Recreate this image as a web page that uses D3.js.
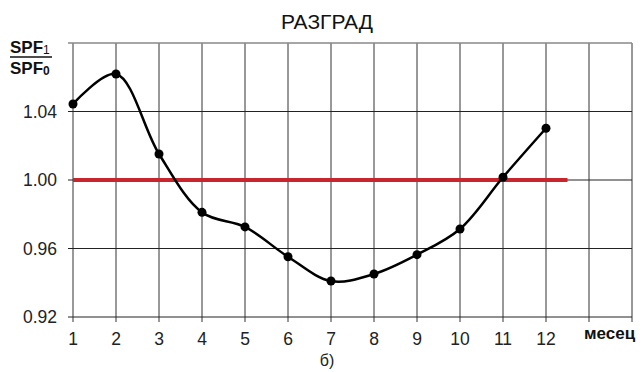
<!DOCTYPE html>
<html><head><meta charset="utf-8">
<script src="https://cdn.jsdelivr.net/npm/d3@7"></script>
<style>body{margin:0;background:#fff}svg{display:block}</style>
</head><body>
<svg id="c" width="643" height="372" font-family="'Liberation Sans', Arial, sans-serif"></svg>
<script>
const months = [1,2,3,4,5,6,7,8,9,10,11,12];
const values = [1.0444,1.0619,1.0152,0.9811,0.9726,0.9552,0.9410,0.9451,0.9564,0.9714,1.0016,1.0302];
const yTicks = [0.92,0.96,1.00,1.04,1.08];
const yTickLabels = ["0.92","0.96","1.00","1.04",""];
const xGrid = [1,2,3,4,5,6,7,8,9,10,11,12,13,14];
const xTickLabels = ["1","2","3","4","5","6","7","8","9","10","11","12"];
const refValue = 1.00;
const refExtent = [1,12.5];
const FF = "'Liberation Sans', Arial, sans-serif";

const svg = d3.select("#c");
const x = d3.scaleLinear().domain([1,14]).range([73,632]);
const y = d3.scaleLinear().domain([0.92,1.08]).range([317,43]);

// grid
svg.append("g").selectAll("line").data(xGrid).join("line")
  .attr("x1",d=>x(d)).attr("x2",d=>x(d)).attr("y1",y(1.08)).attr("y2",y(0.92)+5)
  .attr("stroke",(d,i)=>i===0?"#777":"#333").attr("stroke-width",(d,i)=>i===0?1.5:1);
svg.append("g").selectAll("line").data(yTicks).join("line")
  .attr("x1",x(1)-5).attr("x2",x(14)).attr("y1",d=>y(d)).attr("y2",d=>y(d))
  .attr("stroke",d=>d===1.08?"#888":"#222").attr("stroke-width",d=>d===1.08?1.5:1);

// y labels
svg.append("g").selectAll("text").data(yTicks).join("text")
  .attr("font-family",FF)
  .attr("x",57).attr("y",d=>y(d)+6).attr("text-anchor","end")
  .attr("font-size",17.5).attr("fill","#222").text((d,i)=>yTickLabels[i]);
// x labels
svg.append("g").selectAll("text").data(xTickLabels).join("text")
  .attr("font-family",FF)
  .attr("x",(d,i)=>x(months[i])).attr("y",345).attr("text-anchor","middle")
  .attr("font-size",17.5).attr("fill","#222").text(d=>d);

// reference line
svg.append("line").attr("x1",x(refExtent[0])).attr("x2",x(refExtent[1]))
  .attr("y1",y(refValue)).attr("y2",y(refValue))
  .attr("stroke","#c8252d").attr("stroke-width",4);

// series
const pts = months.map((m,i)=>[m,values[i]]);
svg.append("path").datum(pts)
  .attr("d",d3.line().x(d=>x(d[0])).y(d=>y(d[1])).curve(d3.curveCatmullRom.alpha(0.5)))
  .attr("fill","none").attr("stroke","#000").attr("stroke-width",2.5);
svg.append("g").selectAll("circle").data(pts).join("circle")
  .attr("cx",d=>x(d[0])).attr("cy",d=>y(d[1])).attr("r",4.5).attr("fill","#000");

// title
svg.append("text").attr("font-family",FF).attr("x",327).attr("y",29).attr("text-anchor","middle")
  .attr("font-size",21).attr("fill","#111").text("РАЗГРАД");

// y axis label fraction
const yl = svg.append("g").attr("font-weight","bold").attr("fill","#111");
const t1 = yl.append("text").attr("font-family",FF).attr("x",10).attr("y",53).attr("font-size",17).attr("font-weight","bold");
t1.append("tspan").text("SPF");
t1.append("tspan").attr("font-size",12).attr("font-weight","normal").attr("dy",1).text("1");
yl.append("line").attr("x1",10).attr("x2",52).attr("y1",57).attr("y2",57).attr("stroke","#111").attr("stroke-width",1.5);
const t2 = yl.append("text").attr("font-family",FF).attr("x",10).attr("y",74).attr("font-size",17).attr("font-weight","bold");
t2.append("tspan").text("SPF");
t2.append("tspan").attr("font-size",12).attr("dy",1).text("0");

// x axis label
svg.append("text").attr("font-family",FF).attr("x",584).attr("y",339).attr("font-size",17).attr("font-weight","bold")
  .attr("fill","#111").text("месец");
svg.append("text").attr("font-family",FF).attr("x",327).attr("y",366).attr("text-anchor","middle")
  .attr("font-size",16).attr("fill","#222").text("б)");
</script>
</body></html>
